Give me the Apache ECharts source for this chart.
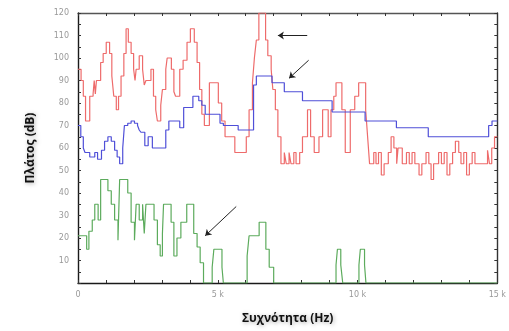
<!DOCTYPE html>
<html>
<head>
<meta charset="utf-8">
<script src="https://cdn.jsdelivr.net/npm/echarts@6/dist/echarts.min.js"></script>
<style>
  html, body { margin: 0; padding: 0; background: #fff; }
  #chart { width: 509px; height: 331px; }
</style>
</head>
<body>
<div id="chart"></div>
<script>
// frequency in kHz, level in dB; each value holds until the next breakpoint
const redFreq = [0, 0.11, 0.19, 0.27, 0.42, 0.54, 0.58, 0.62, 0.66, 0.81, 0.90, 1.01, 1.13, 1.21, 1.28, 1.37, 1.45, 1.54, 1.64, 1.72, 1.80, 1.90, 1.99, 2.04, 2.08, 2.19, 2.31, 2.37, 2.43, 2.61, 2.70, 2.78, 2.84, 2.96, 3.02, 3.14, 3.19, 3.34, 3.43, 3.49, 3.64, 3.76, 3.90, 4.02, 4.16, 4.26, 4.35, 4.43, 4.52, 4.70, 5.02, 5.14, 5.26, 5.61, 6.02, 6.12, 6.24, 6.31, 6.38, 6.47, 6.71, 6.79, 6.91, 6.97, 7.06, 7.15, 7.26, 7.38, 7.45, 7.55, 7.62, 7.72, 7.80, 7.93, 8.03, 8.21, 8.32, 8.45, 8.62, 8.75, 8.95, 9.05, 9.15, 9.23, 9.44, 9.56, 9.74, 9.90, 10.04, 10.29, 10.36, 10.43, 10.58, 10.66, 10.75, 10.85, 10.95, 11.10, 11.20, 11.30, 11.40, 11.45, 11.60, 11.75, 11.85, 11.95, 12.05, 12.20, 12.30, 12.45, 12.55, 12.63, 12.72, 12.90, 13.00, 13.10, 13.20, 13.30, 13.40, 13.50, 13.62, 13.70, 13.80, 13.90, 14.00, 14.10, 14.20, 14.65, 14.72, 14.80, 14.90, 15];
const redDb = [95, 90, 83, 72, 83, 84, 90, 84, 90, 98, 102, 107, 102, 92, 83, 77, 83, 92, 102, 113, 107, 102, 95, 90, 95, 101, 95, 88, 90, 95, 83, 77, 72, 79, 86, 95, 100, 95, 85, 83, 95, 99, 107, 113, 107, 98, 86, 75, 70, 89, 80, 72, 65, 58, 65, 77, 89, 100, 108, 120, 108, 101, 95, 86, 77, 65, 53, 58, 53, 58, 53, 58, 53, 58, 65, 77, 65, 58, 65, 77, 65, 77, 83, 89, 77, 58, 77, 83, 89, 77, 65, 53, 58, 53, 58, 48, 53, 58, 65, 60, 53, 60, 53, 58, 53, 58, 53, 48, 53, 58, 53, 46, 53, 58, 53, 58, 48, 53, 58, 63, 58, 53, 58, 48, 53, 58, 53, 59, 53, 60, 65, 65];

const blueFreq = [0, 0.10, 0.19, 0.25, 0.42, 0.60, 0.70, 0.84, 0.95, 1.07, 1.19, 1.31, 1.40, 1.49, 1.60, 1.66, 1.78, 1.90, 2.02, 2.13, 2.19, 2.25, 2.39, 2.51, 2.66, 3.14, 3.25, 3.64, 3.78, 4.11, 4.32, 4.43, 4.55, 5.08, 5.20, 5.73, 6.28, 6.38, 6.94, 7.38, 8.03, 9.09, 10.27, 11.39, 12.53, 14.69, 14.81, 15];
const blueDb = [70, 65, 60, 58, 56, 58, 55, 59, 63, 65, 63, 59, 56, 53, 60, 70, 71, 72, 71, 70, 68, 67, 61, 65, 60, 68, 72, 69, 78, 83, 81, 79, 75, 71, 70, 68, 88, 92, 89, 85, 81, 76, 72, 69, 65, 70, 72, 72];

const greenFreq = [0, 0.31, 0.39, 0.51, 0.60, 0.72, 0.81, 1.07, 1.19, 1.31, 1.43, 1.49, 1.78, 1.90, 2.02, 2.08, 2.19, 2.31, 2.37, 2.43, 2.72, 2.84, 2.94, 3.02, 3.06, 3.33, 3.43, 3.54, 3.68, 3.89, 4.14, 4.26, 4.37, 4.49, 4.80, 4.86, 5.15, 5.20, 6.05, 6.12, 6.48, 6.72, 6.84, 7.00, 9.23, 9.28, 9.40, 9.47, 10.05, 10.10, 10.25, 10.30, 15];
const greenDb = [21, 15, 23, 28, 35, 28, 46, 41, 35, 28, 19, 46, 40, 27, 19, 35, 28, 35, 22, 35, 28, 17, 12, 22, 35, 27, 12, 20, 27, 35, 22, 16, 9, 0, 7, 15, 7, 0, 12, 21, 27, 15, 7, 0, 8, 15, 8, 0, 8, 15, 8, 0, 0];

// arrows: [tail kHz, tail dB, head kHz, head dB]
const arrows = [
  [8.2, 110, 7.15, 110],
  [8.25, 99, 7.55, 91],
  [5.66, 34, 4.55, 21]
];

const toPairs = (xs, ys) => xs.map((x, i) => [x, ys[i]]);

const chart = echarts.init(document.getElementById('chart'));

const frameLine = (color) => ({ show: true, onZero: false, lineStyle: { color, width: 1.4 } });
const tickIn = { show: true, inside: true, length: 3, lineStyle: { color: '#333' } };
const minorIn = (n) => ({ show: true, splitNumber: n, length: 3, lineStyle: { color: '#333' } });
const titleStyle = {
  fontFamily: 'Open Sans',
  fontWeight: 'bold',
  fontSize: 12,
  color: '#111',
  textShadowColor: 'rgba(0,0,0,0.35)',
  textShadowBlur: 4,
  textShadowOffsetX: 1,
  textShadowOffsetY: 1
};

const lineSeries = (name, data, color) => ({
  name,
  type: 'line',
  step: 'end',
  data,
  showSymbol: false,
  animation: false,
  lineStyle: { color, width: 1.2 },
  itemStyle: { color }
});

chart.setOption({
  animation: false,
  grid: { left: 78, right: 7, top: 13, bottom: 48 },
  xAxis: [
    {
      type: 'value', min: 0, max: 15, interval: 5, position: 'bottom',
      axisLine: frameLine('#1a1a1a'), axisTick: tickIn, minorTick: minorIn(5),
      splitLine: { show: false },
      axisLabel: {
        color: '#999', fontSize: 8, fontFamily: 'DejaVu Sans', margin: 8,
        formatter: v => v === 0 ? '0' : v + ' k'
      },
      name: 'Συχνότητα (Hz)', nameLocation: 'middle', nameGap: 30,
      nameTextStyle: titleStyle
    },
    {
      type: 'value', min: 0, max: 15, interval: 5, position: 'top',
      axisLine: frameLine('#555'), axisTick: tickIn, minorTick: minorIn(5),
      splitLine: { show: false }, axisLabel: { show: false }
    }
  ],
  yAxis: [
    {
      type: 'value', min: 0, max: 120, interval: 10, position: 'left',
      axisLine: frameLine('#1a1a1a'), axisTick: tickIn, minorTick: minorIn(2),
      splitLine: { show: false },
      axisLabel: {
        color: '#999', fontSize: 8, fontFamily: 'DejaVu Sans', margin: 9,
        formatter: v => v === 0 ? '' : String(v)
      },
      name: 'Πλάτος (dB)', nameLocation: 'middle', nameGap: 41,
      nameTextStyle: titleStyle
    },
    {
      type: 'value', min: 0, max: 120, interval: 10, position: 'right',
      axisLine: frameLine('#333'), axisTick: tickIn, minorTick: minorIn(2),
      splitLine: { show: false }, axisLabel: { show: false }
    }
  ],
  series: [
    lineSeries('red', toPairs(redFreq, redDb), '#ee6b6b'),
    lineSeries('blue', toPairs(blueFreq, blueDb), '#4f4fd8'),
    lineSeries('green', toPairs(greenFreq, greenDb), '#5cab5c'),
    {
      type: 'lines',
      coordinateSystem: 'cartesian2d',
      animation: false,
      symbol: ['none', 'arrow'],
      symbolSize: 6,
      lineStyle: { color: '#222', width: 1, opacity: 1 },
      data: arrows.map(a => ({ coords: [[a[0], a[1]], [a[2], a[3]]] }))
    }
  ]
});
</script>
</body>
</html>
